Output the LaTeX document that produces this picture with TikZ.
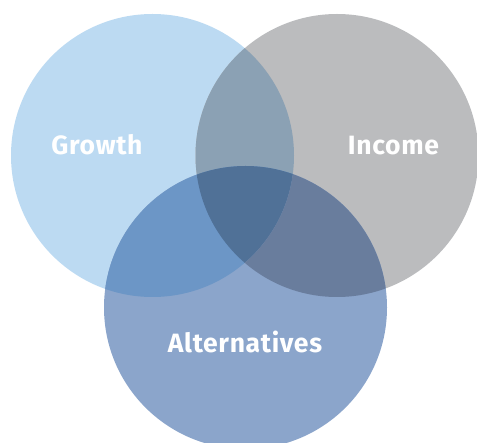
\documentclass[tikz,border=0pt]{standalone}
\usepackage{fontspec}
\setmainfont{Fira Sans}[LetterSpace=2.5]
\definecolor{cG}{RGB}{188,218,242}
\definecolor{cI}{RGB}{187,188,190}
\definecolor{cA}{RGB}{139,165,203}
\definecolor{cGI}{RGB}{139,161,180}
\definecolor{cGA}{RGB}{108,150,198}
\definecolor{cIA}{RGB}{105,125,157}
\definecolor{cGIA}{RGB}{80,113,151}
\tikzset{lbl/.style={text=white,font=\fontsize{26.5}{30}\selectfont\bfseries,inner sep=0pt,anchor=base}}
\begin{document}
\begin{tikzpicture}[x=1pt,y=-1pt]
\useasboundingbox (0,0) rectangle (477,443);
\def\rr{141.5}
\coordinate (g) at (152.5,155.5);
\coordinate (i) at (337,155.5);
\coordinate (a) at (245.5,307.5);
\begin{scope}
\clip (0,0) rectangle (477,443);
\fill[cG] (g) circle (\rr);
\fill[cI] (i) circle (\rr);
\fill[cA] (a) circle (\rr);
\begin{scope}
\clip (g) circle (\rr);
\fill[cGI] (i) circle (\rr);
\fill[cGA] (a) circle (\rr);
\clip (i) circle (\rr);
\fill[cGIA] (a) circle (\rr);
\end{scope}
\begin{scope}
\clip (i) circle (\rr);
\clip (a) circle (\rr);
\fill[cIA, even odd rule] (-10,-10) rectangle (500,500) (g) circle (\rr);
\end{scope}
\end{scope}
\node[lbl] (tg) at (97,155) {Growth};
\node[lbl] (ti) at (393.5,155) {Income};
\node[lbl] (ta) at (245,352.5) {Alternatives};
\end{tikzpicture}
\end{document}
